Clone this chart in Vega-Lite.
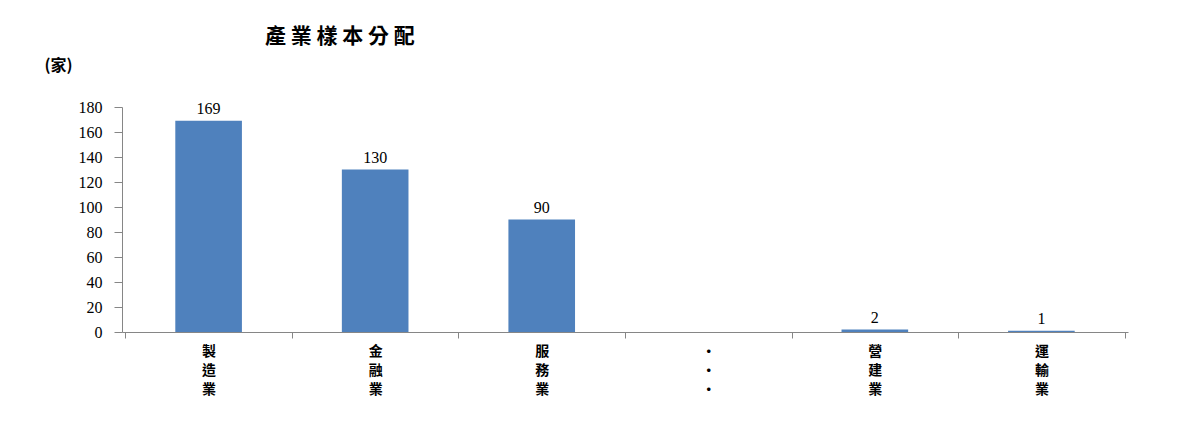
{
  "$schema": "https://vega.github.io/schema/vega-lite/v6.json",
  "autosize": {"type": "none"},
  "width": 1006,
  "height": 225,
  "padding": {"left": 122, "top": 107, "right": 54, "bottom": 107},
  "background": "white",
  "title": {
    "text": "產   業   樣   本   分   配",
    "anchor": "start",
    "frame": "group",
    "dx": 143,
    "offset": 10,
    "font": "Noto Sans CJK TC",
    "fontSize": 21,
    "fontWeight": "bold",
    "color": "#000000"
  },
  "data": {
    "values": [
      {"industry": "製造業", "count": 169, "label": "169"},
      {"industry": "金融業", "count": 130, "label": "130"},
      {"industry": "服務業", "count": 90, "label": "90"},
      {"industry": "•••", "count": 0, "label": ""},
      {"industry": "營建業", "count": 2, "label": "2"},
      {"industry": "運輸業", "count": 1, "label": "1"}
    ]
  },
  "encoding": {
    "x": {
      "field": "industry",
      "type": "nominal",
      "sort": null,
      "scale": {"paddingInner": 0, "paddingOuter": 0.02},
      "axis": {
        "orient": "bottom",
        "title": null,
        "labelAngle": 0,
        "ticks": true,
        "tickBand": "extent",
        "tickSize": 6,
        "tickColor": "#868686",
        "domain": true,
        "domainColor": "#868686",
        "labelExpr": "split(datum.label, '')",
        "labelFont": "Noto Sans CJK TC",
        "labelFontSize": 14,
        "labelFontWeight": "bold",
        "labelLineHeight": 19,
        "labelColor": "#000000",
        "labelPadding": 6,
        "labelBaseline": "top"
      }
    },
    "y": {
      "field": "count",
      "type": "quantitative",
      "scale": {"domain": [0, 180]},
      "axis": {
        "values": [0, 20, 40, 60, 80, 100, 120, 140, 160, 180],
        "labelOverlap": false,
        "title": "(家)",
        "titleAngle": 0,
        "titleX": -64,
        "titleY": -42,
        "titleAlign": "center",
        "titleBaseline": "middle",
        "titleFont": "Noto Sans CJK TC",
        "titleFontSize": 16,
        "titleFontWeight": "bold",
        "titleColor": "#000000",
        "labelFont": "Liberation Serif",
        "labelFontSize": 16,
        "labelColor": "#000000",
        "labelPadding": 12,
        "tickSize": 8,
        "tickColor": "#868686",
        "domainColor": "#868686",
        "grid": false
      }
    }
  },
  "layer": [
    {
      "mark": {"type": "bar", "color": "#4F81BD", "width": {"band": 0.4}}
    },
    {
      "mark": {"type": "text", "dy": -12, "font": "Liberation Serif", "fontSize": 16, "color": "#000000"},
      "encoding": {
        "text": {"field": "label", "type": "nominal"}
      }
    }
  ],
  "config": {"view": {"stroke": null}}
}
